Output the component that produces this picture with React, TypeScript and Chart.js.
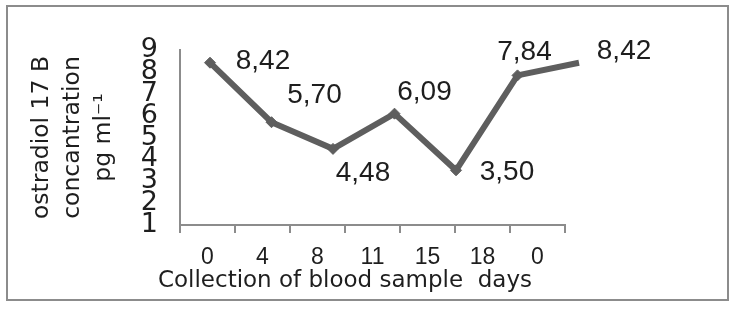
import React, { useEffect, useRef } from 'react';
import { Chart, registerables } from 'chart.js';

Chart.register(...registerables);

// ---- data ----
const DAY_LABELS = ['0', '4', '8', '11', '15', '18', '0'];
const CONCENTRATION = [8.42, 5.7, 4.48, 6.09, 3.5, 7.84, 8.42];
const Y_MIN = 1;
const Y_MAX = 9;
const Y_STEP = 1;
const X_TITLE = 'Collection of blood sample  days';
const Y_TITLE = ['ostradiol 17 B', 'concantration', 'pg ml\u207B\u00B9'];

// ---- styling / placement (not data) ----
const LABEL_OFFSETS: [number, number][] = [
  [53, -1],
  [43, -27],
  [30, 24],
  [30, -21],
  [51, 2],
  [7, -23],
  [45, -11],
];
const X_TITLE_LEAD = ' '.repeat(16);
const AXIS_GREY = '#8c8c8c';
const LINE_GREY = '#5e5e5e';
const TEXT = '#1e1e1e';
const ARIAL = "'Liberation Sans', Arial, sans-serif";
const DEJAVU = "'DejaVu Sans', sans-serif";

const fmt = (v: number) => v.toFixed(2).replace('.', ',');

const valueLabels = {
  id: 'valueLabels',
  afterDatasetsDraw(chart: any) {
    const meta = chart.getDatasetMeta(0);
    const ctx = chart.ctx;
    ctx.save();
    ctx.font = `28px ${ARIAL}`;
    ctx.fillStyle = TEXT;
    ctx.textAlign = 'center';
    ctx.textBaseline = 'middle';
    meta.data.forEach((pt: any, i: number) => {
      const [dx, dy] = LABEL_OFFSETS[i];
      ctx.fillText(fmt(CONCENTRATION[i]), pt.x + dx, pt.y + dy);
    });
    ctx.restore();
  },
};

export default function App() {
  const ref = useRef<HTMLCanvasElement | null>(null);

  useEffect(() => {
    if (!ref.current) return;
    const chart = new Chart(ref.current, {
      type: 'line',
      data: {
        labels: DAY_LABELS,
        datasets: [
          {
            data: CONCENTRATION.map((v, i) => ({ x: i, y: v })),
            xAxisID: 'xd',
            yAxisID: 'y',
            borderColor: LINE_GREY,
            borderWidth: 6,
            backgroundColor: LINE_GREY,
            pointStyle: 'rectRot',
            pointRadius: 5.5,
            pointBackgroundColor: LINE_GREY,
            pointBorderColor: LINE_GREY,
            pointBorderWidth: 1,
            tension: 0,
            clip: false as any,
          },
        ],
      },
      options: {
        responsive: false,
        animation: false,
        devicePixelRatio: 1,
        layout: { padding: { left: 0, right: 162, top: 43, bottom: 0 }, autoPadding: false } as any,
        plugins: {
          legend: { display: false },
          tooltip: { enabled: false },
          title: {
            display: true,
            position: 'bottom',
            align: 'center',
            text: X_TITLE_LEAD + X_TITLE,
            font: { family: DEJAVU, size: 23, weight: 'normal', lineHeight: 1.2 },
            color: TEXT,
            padding: { top: 0, bottom: 4 },
          },
        },
        scales: {
          x: {
            type: 'category',
            position: 'bottom',
            offset: true,
            grid: {
              display: true,
              offset: true,
              drawOnChartArea: false,
              drawTicks: true,
              tickLength: 8,
              color: AXIS_GREY,
              lineWidth: 2,
            },
            border: { display: true, color: AXIS_GREY, width: 2 },
            ticks: {
              font: { family: ARIAL, size: 23 },
              color: TEXT,
              padding: 11,
              maxRotation: 0,
              minRotation: 0,
              autoSkip: false,
            },
            afterFit: (s: any) => {
              s.height = 42.4;
            },
          },
          xd: {
            type: 'linear',
            display: false,
            min: -0.4878,
            max: 5.772,
          },
          y: {
            type: 'linear',
            position: 'left',
            min: Y_MIN,
            max: Y_MAX,
            grid: { display: false, drawTicks: false },
            border: { display: true, color: AXIS_GREY, width: 2 },
            ticks: {
              stepSize: Y_STEP,
              autoSkip: false,
              font: { family: DEJAVU, size: 27, lineHeight: 1 },
              color: TEXT,
              padding: 22,
            },
            title: {
              display: true,
              text: Y_TITLE,
              font: { family: DEJAVU, size: 23.5, lineHeight: 31 / 23.5 },
              color: TEXT,
              padding: { top: 18, bottom: 0 },
            },
            afterFit: (s: any) => {
              s.width = 172;
            },
          },
        },
      } as any,
      plugins: [valueLabels],
    });
    return () => chart.destroy();
  }, []);

  return (
    <div
      style={{
        position: 'absolute',
        left: 6,
        top: 5,
        width: 719,
        height: 292,
        border: '2px solid #8c8c8c',
        background: '#fff',
      }}
    >
      <canvas ref={ref} width={719} height={292} style={{ display: 'block', width: 719, height: 292 }} />
    </div>
  );
}
